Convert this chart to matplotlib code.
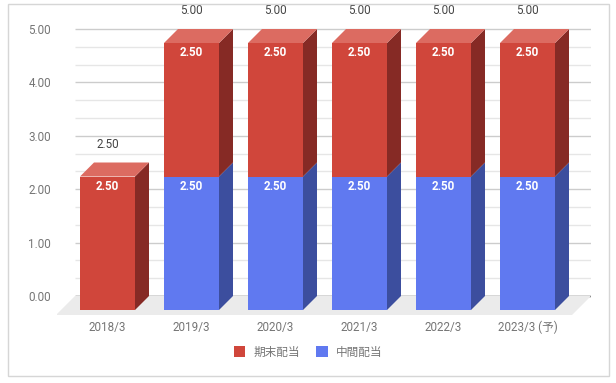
import matplotlib
matplotlib.use("Agg")
import matplotlib.pyplot as plt
from matplotlib.patches import Polygon, Rectangle, Patch

plt.rcParams['font.family'] = ['Roboto', 'Noto Sans CJK JP', 'DejaVu Sans']

# データ
categories = ['2018/3', '2019/3', '2020/3', '2021/3', '2022/3', '2023/3 (予)']
interim = [0, 2.5, 2.5, 2.5, 2.5, 2.5]       # 中間配当
year_end = [2.5, 2.5, 2.5, 2.5, 2.5, 2.5]    # 期末配当
yticks = [0, 1, 2, 3, 4, 5]

# 色 (前面, 上面, 側面)
red = ('#d0463b', '#dc6b61', '#862a25')
blue = ('#6079f0', '#7f93f3', '#3c4e9e')

W, H, DPI = 616, 383, 100
fig = plt.figure(figsize=(W / DPI, H / DPI), dpi=DPI)

# 軸の位置はピクセルで決める
ppu = 53.4       # 1単位あたりのピクセル (縦)
ppc = 84.0       # カテゴリ間隔 (横)
y0 = 296         # 0.00 の位置
x_front0 = 107.5 # 最初の棒の前面中心
ax_l, ax_r = 57, 591
ymin, ymax = -0.36, 5.35
ax_bot = y0 + (-ymin) * ppu
ax_top = y0 - ymax * ppu
ax = fig.add_axes([ax_l / W, 1 - ax_bot / H, (ax_r - ax_l) / W, (ax_bot - ax_top) / H])
ax.set_xlim((ax_l - x_front0) / ppc, (ax_r - x_front0) / ppc)
ax.set_ylim(ymin, ymax)
for s in ax.spines.values():
    s.set_visible(False)

dx = 14 / ppc
dy = 14 / ppu
w = 55 / ppc
gx0 = (75 - x_front0) / ppc
gx1 = (591 - x_front0) / ppc
fdx, fdy = 19 / ppc, 19 / ppu

# 床
ax.add_patch(Polygon([(gx0, 0), (gx1, 0), (gx1 - fdx, -fdy), (gx0 - fdx, -fdy)],
                     closed=True, facecolor='#ebebeb', edgecolor='none', zorder=1))

# グリッド
for v in yticks:
    for k in (1, 2):
        if v + k / 3 <= 5:
            ax.hlines(v + k / 3, gx0, gx1, color='#e6e6e6', lw=1, zorder=0)
    if v > 0:
        ax.hlines(v, gx0, gx1, color='#cccccc', lw=1, zorder=0)
ax.hlines(0, gx0, gx1, color='#333333', lw=1, zorder=0.5)


def draw_segment(x, b, h, cols, top):
    left, right = x - w / 2, x + w / 2
    ax.bar(x, h, width=w, bottom=b - dy, color=cols[0], zorder=3)
    ax.add_patch(Polygon([(right, b - dy), (right + dx, b), (right + dx, b + h), (right, b + h - dy)],
                         closed=True, facecolor=cols[2], edgecolor='none', zorder=3))
    if top:
        ax.add_patch(Polygon([(left, b + h - dy), (left + dx, b + h), (right + dx, b + h), (right, b + h - dy)],
                             closed=True, facecolor=cols[1], edgecolor='none', zorder=3))
    ax.text(x, b + h - dy - 10 / ppu, '%.2f' % h, ha='center', va='center',
            color='white', fontsize=8.4, fontweight='bold', zorder=4)


for i in range(len(categories)):
    b = 0
    if interim[i] > 0:
        draw_segment(i, b, interim[i], blue, False)
        b += interim[i]
    draw_segment(i, b, year_end[i], red, True)
    total = interim[i] + year_end[i]
    ax.text(i, total + 0.34, '%.2f' % total, ha='center', va='center',
            color='#444444', fontsize=8.4, zorder=4)

ax.set_yticks(yticks)
ax.set_yticklabels(['%.2f' % v for v in yticks])
ax.set_xticks(range(len(categories)))
ax.set_xticklabels(categories)
ax.tick_params(axis='y', length=0, pad=4.3, labelsize=8.4, labelcolor='#757575')
ax.tick_params(axis='x', length=0, pad=4.0, labelsize=8.4, labelcolor='#757575')

# 凡例
handles = [Patch(facecolor=red[0], label='期末配当'), Patch(facecolor=blue[0], label='中間配当')]
leg = fig.legend(handles=handles, loc='center', bbox_to_anchor=(308 / W, 1 - 352 / H), ncol=2,
                 frameon=False, fontsize=8.4, handlelength=1.0, handleheight=1.0,
                 handletextpad=0.7, columnspacing=1.4)
for t in leg.get_texts():
    t.set_color('#757575')

# 外枠
fig.add_artist(Rectangle((8 / W, 1 - 376 / H), 601 / W, 372 / H, transform=fig.transFigure,
                         fill=False, edgecolor='#d6d6d6', lw=1))

fig.savefig('out.png', dpi=DPI)
